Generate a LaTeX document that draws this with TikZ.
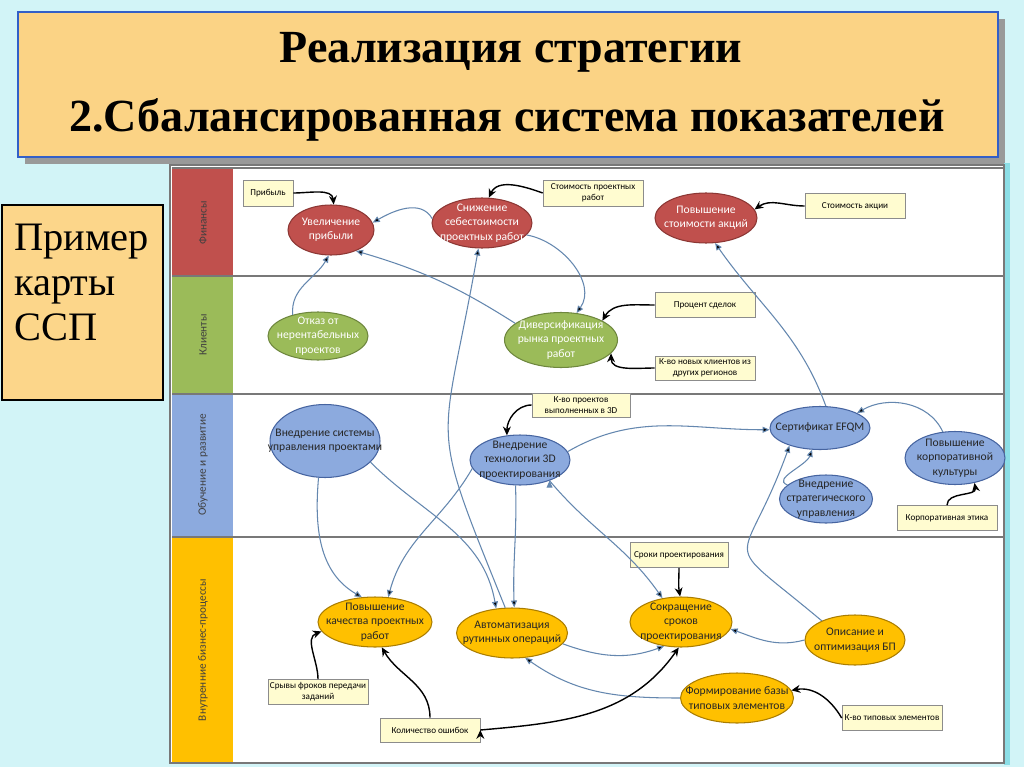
\documentclass[tikz,border=0pt]{standalone}
\usepackage{fontspec}
\setmainfont{Liberation Serif}
\newfontfamily\diafont{Carlito}
\usetikzlibrary{shapes.geometric,arrows.meta}

\definecolor{bgcyan}{RGB}{210,244,247}
\definecolor{titlefill}{RGB}{251,211,133}
\definecolor{titleline}{RGB}{50,95,200}
\definecolor{ssp}{RGB}{252,214,138}
\definecolor{finred}{RGB}{192,80,77}
\definecolor{finredd}{RGB}{140,55,52}
\definecolor{cligreen}{RGB}{155,187,89}
\definecolor{cligreend}{RGB}{110,135,62}
\definecolor{lrnblue}{RGB}{140,170,222}
\definecolor{lrnblued}{RGB}{70,100,160}
\definecolor{prcgold}{RGB}{255,192,0}
\definecolor{prcgoldd}{RGB}{170,125,0}
\definecolor{kpiyellow}{RGB}{255,252,208}
\definecolor{linkblue}{RGB}{100,135,175}
\definecolor{lanegray}{RGB}{120,120,120}
\definecolor{paneledge}{RGB}{140,222,230}

\tikzset{
  lane/.style={rotate=90, font=\diafont\fontsize{6.4}{8}\selectfont, text=black!75},
  goal/.style={ellipse, inner sep=0pt, line width=0.6pt},
  fin/.style={goal, fill=finred, draw=finredd},
  cli/.style={goal, fill=cligreen, draw=cligreend},
  lrn/.style={goal, fill=lrnblue, draw=lrnblued},
  prc/.style={goal, fill=prcgold, draw=prcgoldd},
  wtxt/.style={font=\diafont\fontsize{6.6}{8.2}\selectfont, text=white, align=center},
  dtxt/.style={font=\diafont\fontsize{6.6}{8.2}\selectfont, text=black!85, align=center},
  kpi/.style={rectangle, fill=kpiyellow, draw=black!45, line width=0.4pt,
    font=\diafont\fontsize{5.2}{6.4}\selectfont, align=center, inner sep=1pt},
  link/.style={draw=linkblue, line width=0.6pt, -{Triangle[width=3.4pt,length=4pt]}},
  drive/.style={draw=black, line width=0.8pt, -{Stealth[width=4.5pt,length=5pt]}},
}

\begin{document}
\begin{tikzpicture}[x=0.02cm,y=-0.02cm]
\useasboundingbox[fill=bgcyan] (0,0) rectangle (1024,767);

% title
\fill[black!40] (25,19) rectangle (1005,164);
\node[rectangle, fill=titlefill, draw=titleline, line width=1pt,
  minimum width=19.6cm, minimum height=2.9cm] (title) at (508,84.5) {};
\node[anchor=base, font=\fontsize{26.2}{30}\bfseries\selectfont] (head1) at (511,63) {Реализация стратегии};
\node[anchor=base, font=\fontsize{26.2}{30}\bfseries\selectfont] (head2) at (507,132) {2.Сбалансированная система показателей};

% left note
\node[rectangle, fill=ssp, draw=black, line width=0.6pt,
  minimum width=3.22cm, minimum height=3.9cm] (sspbox) at (82.5,302.5) {};
\node[anchor=north west, align=left, font=\fontsize{23}{25.6}\selectfont] (ssptext) at (8,218) {Пример\\карты\\ССП};

% lanes
\draw[paneledge, line width=3pt] (1007,163) -- (1007,765);
\fill[white] (170,165) rectangle (1004,763);
\fill[finred] (172,168) rectangle (233,276);
\fill[cligreen] (172,277) rectangle (233,394);
\fill[lrnblue] (172,395) rectangle (233,537);
\fill[prcgold] (172,538) rectangle (233,762);
\draw[lanegray, line width=0.8pt] (172,168) -- (1004,168);
\draw[lanegray, line width=0.8pt] (172,276) -- (1004,276);
\draw[lanegray, line width=0.8pt] (172,394) -- (1004,394);
\draw[lanegray, line width=0.8pt] (172,537) -- (1004,537);
\draw[lanegray, line width=0.8pt] (170,165) rectangle (1004,763);
\node[lane] (lfin) at (203,223) {Финансы};
\node[lane] (lcli) at (203,335) {Клиенты};
\node[lane] (llrn) at (203,465) {Обучение и развитие};
\node[lane] (lprc) at (203,650) {Внутренние бизнес-процессы};

% finance
\node[fin, minimum width=1.72cm, minimum height=1cm, label={[wtxt]center:Увеличение\\прибыли}] (uvel) at (331,230) {};
\node[fin, minimum width=2cm, minimum height=1cm, label={[wtxt]center:Снижение\\себестоимости\\проектных работ}] (sniz) at (482,223) {};
\node[fin, minimum width=2.04cm, minimum height=1cm, label={[wtxt]center:Повышение\\стоимости акций}] (povak) at (706,218) {};
\node[kpi, minimum width=1cm, minimum height=0.52cm] (pribyl) at (268,193) {Прибыль};
\node[kpi, minimum width=2cm, minimum height=0.52cm] (spr) at (593,193) {Стоимость проектных\\работ};
\node[kpi, minimum width=2cm, minimum height=0.5cm] (sakc) at (855,206) {Стоимость акции};

% clients
\node[cli, minimum width=2cm, minimum height=0.96cm, label={[wtxt]center:Отказ от\\нерентабельных\\проектов}] (otkaz) at (318,336) {};
\node[cli, minimum width=2.26cm, minimum height=1.1cm, label={[wtxt]center:Диверсификация\\рынка проектных\\работ}] (div) at (561,340) {};
\node[kpi, minimum width=2cm, minimum height=0.5cm] (proc) at (705,305) {Процент сделок};
\node[kpi, minimum width=2cm, minimum height=0.48cm] (knew) at (705,368) {К-во новых клиентов из\\других регионов};

% learning
\node[lrn, minimum width=2.2cm, minimum height=1.46cm, label={[dtxt]center:Внедрение системы\\управления проектами}] (vsys) at (325,441) {};
\node[lrn, minimum width=2cm, minimum height=1cm, label={[dtxt]center:Внедрение\\технологии 3D\\проектирования}] (v3d) at (520,460) {};
\node[lrn, minimum width=2cm, minimum height=0.86cm, label={[dtxt]center:Сертификат EFQM}] (efqm) at (820,428) {};
\node[lrn, minimum width=2cm, minimum height=1.06cm, label={[dtxt]center:Повышение\\корпоративной\\культуры}] (korp) at (955,458) {};
\node[lrn, minimum width=1.86cm, minimum height=0.96cm, label={[dtxt]center:Внедрение\\стратегического\\управления}] (strat) at (826,499) {};
\node[kpi, minimum width=1.96cm, minimum height=0.48cm] (k3d) at (581,405) {К-во проектов\\выполненных в 3D};
\node[kpi, minimum width=2cm, minimum height=0.5cm] (etika) at (947,518) {Корпоративная этика};

% processes
\node[prc, minimum width=2.28cm, minimum height=1cm, label={[dtxt]center:Повышение\\качества проектных\\работ}] (kach) at (375,622) {};
\node[prc, minimum width=2.22cm, minimum height=1cm, label={[dtxt]center:Автоматизация\\рутинных операций}] (avto) at (512,633) {};
\node[prc, minimum width=2.04cm, minimum height=1cm, label={[dtxt]center:Сокращение\\сроков\\проектирования}] (sokr) at (681,622) {};
\node[prc, minimum width=2cm, minimum height=1cm, label={[dtxt]center:Описание и\\оптимизация БП}] (opis) at (855,640) {};
\node[prc, minimum width=2.26cm, minimum height=1cm, label={[dtxt]center:Формирование базы\\типовых элементов}] (form) at (737,698) {};
\node[kpi, minimum width=1.96cm, minimum height=0.5cm] (srok) at (679,555) {Сроки проектирования};
\node[kpi, minimum width=2cm, minimum height=0.5cm] (ktip) at (892,718) {К-во типовых элементов};
\node[kpi, minimum width=2cm, minimum height=0.5cm] (sryv) at (318,692) {Срывы фроков передачи\\заданий};
\node[kpi, minimum width=2cm, minimum height=0.48cm] (kol) at (430,730) {Количество ошибок};

% links between goals
\path[link]
  (sniz.175) edge[out=120,in=30] (uvel.10)
  (sniz.-15) edge[out=-10,in=55] (div.60)
  (div.160) edge[bend right=8] (uvel.-40)
  (otkaz.140) edge[out=95,in=-120] (uvel.-95)
  (avto.105) edge[out=112,in=-100,looseness=1.5] (sniz.-98)
  (efqm.75) edge[out=110,in=-55] (povak.-70)
  (v3d.10) edge[out=30,in=180] (efqm.182)
  (korp.115) edge[out=115,in=30] (efqm.22)
  (strat.160) edge[out=160,in=-110] (efqm.-110)
  (opis.150) edge[out=140,in=-110,looseness=2] (efqm.-150)
  (opis.180) edge[out=195,in=-20] (sokr.-8)
  (avto.-12) edge[out=-20,in=-160] (sokr.-125)
  (form.180) edge[out=180,in=-35] (avto.-62)
  (vsys.-100) edge[out=-95,in=150] (kach.118)
  (vsys.-25) edge[out=-45,in=100] (avto.123)
  (v3d.190) edge[out=-120,in=75] (kach.62)
  (v3d.-100) edge[out=-88,in=92] (avto.85)
  (v3d.-35) edge[out=-50,in=125] (sokr.128);

% indicators
\path[drive]
  (pribyl.east) edge[out=0,in=95] (uvel.84)
  (spr.west) edge[out=160,in=65] (sniz.75)
  (sakc.west) edge[out=180,in=35] (povak.10)
  (proc.west) edge[out=180,in=60] (div.25)
  (knew.west) edge[out=180,in=-90] (div.-15)
  (k3d.west) edge[out=180,in=90] (v3d.118)
  (etika.north) edge[out=90,in=-80] (korp.-52)
  (srok.south) edge[out=-90,in=100] (sokr.92)
  (ktip.west) edge[out=120,in=10] (form.8)
  (sryv.north) edge[out=90,in=200] (kach.190)
  (kol.north) edge[out=90,in=-60] (kach.-75)
  (kol.east) edge[out=5,in=235] (sokr.-95);
\end{tikzpicture}
\end{document}
